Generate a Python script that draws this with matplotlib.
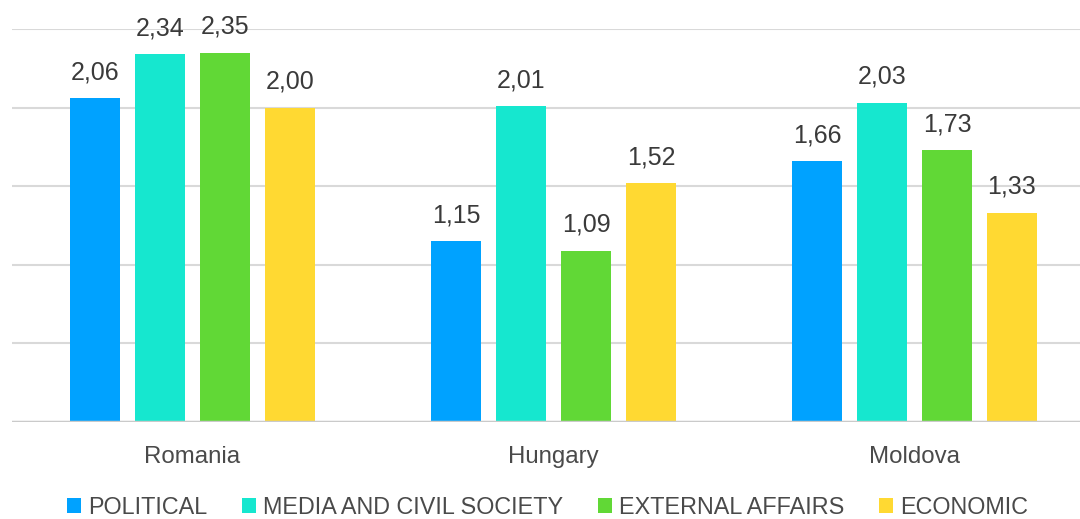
import numpy as np
import matplotlib
matplotlib.use("Agg")
import matplotlib.pyplot as plt
from matplotlib.patches import Patch

plt.rcParams['font.family'] = ['Liberation Sans', 'DejaVu Sans']

countries = ['Romania', 'Hungary', 'Moldova']
series = ['POLITICAL', 'MEDIA AND CIVIL SOCIETY', 'EXTERNAL AFFAIRS', 'ECONOMIC']
political = [2.06, 1.15, 1.66]
media = [2.34, 2.01, 2.03]
external = [2.35, 1.09, 1.73]
economic = [2.00, 1.52, 1.33]
colors = ['#00A2FF', '#16E7CF', '#61D836', '#FFD932']

values = [political, media, external, economic]

fig = plt.figure(figsize=(10.8, 5.19), dpi=100)
# axes runs a little past the right edge of the figure
ax = fig.add_axes([12 / 1080, 97 / 519, 1083 / 1080, 393 / 519])

x = np.arange(len(countries))
step = 0.18
width = 0.141
for i, (vals, col) in enumerate(zip(values, colors)):
    pos = x + (i - 1.5) * step
    bars = ax.bar(pos, vals, width=width, color=col, zorder=3)
    for b, v in zip(bars, vals):
        ax.annotate(f"{v:.2f}".replace('.', ','),
                    (b.get_x() + b.get_width() / 2, v),
                    xytext=(0, 14), textcoords='offset pixels',
                    ha='center', va='bottom', fontsize=18, color='#3a3a3a')

ax.set_xlim(-0.5, 2.5)
ax.set_ylim(0, 2.5)
ax.set_yticks(np.arange(0, 2.51, 0.5))
ax.yaxis.grid(True, color='#d9d9d9', linewidth=1.5, zorder=0)
ax.axhline(0, color='#cacaca', linewidth=2.5, zorder=4)
for s in ax.spines.values():
    s.set_visible(False)
ax.tick_params(axis='y', left=False, labelleft=False)
ax.tick_params(axis='x', bottom=False, pad=14)
ax.set_xticks(x)
ax.set_xticklabels(countries, fontsize=17.3, color='#4a4a4a')

handles = [Patch(facecolor=c, label=s) for c, s in zip(colors, series)]
fig.legend(handles=handles, loc='center', bbox_to_anchor=(0.507, 11.5 / 519),
           ncol=4, frameon=False, fontsize=16.8, labelcolor='#4a4a4a',
           handlelength=0.6, handleheight=0.6, handletextpad=0.3,
           columnspacing=1.5, borderaxespad=0)

fig.savefig('out.png', dpi=100)
